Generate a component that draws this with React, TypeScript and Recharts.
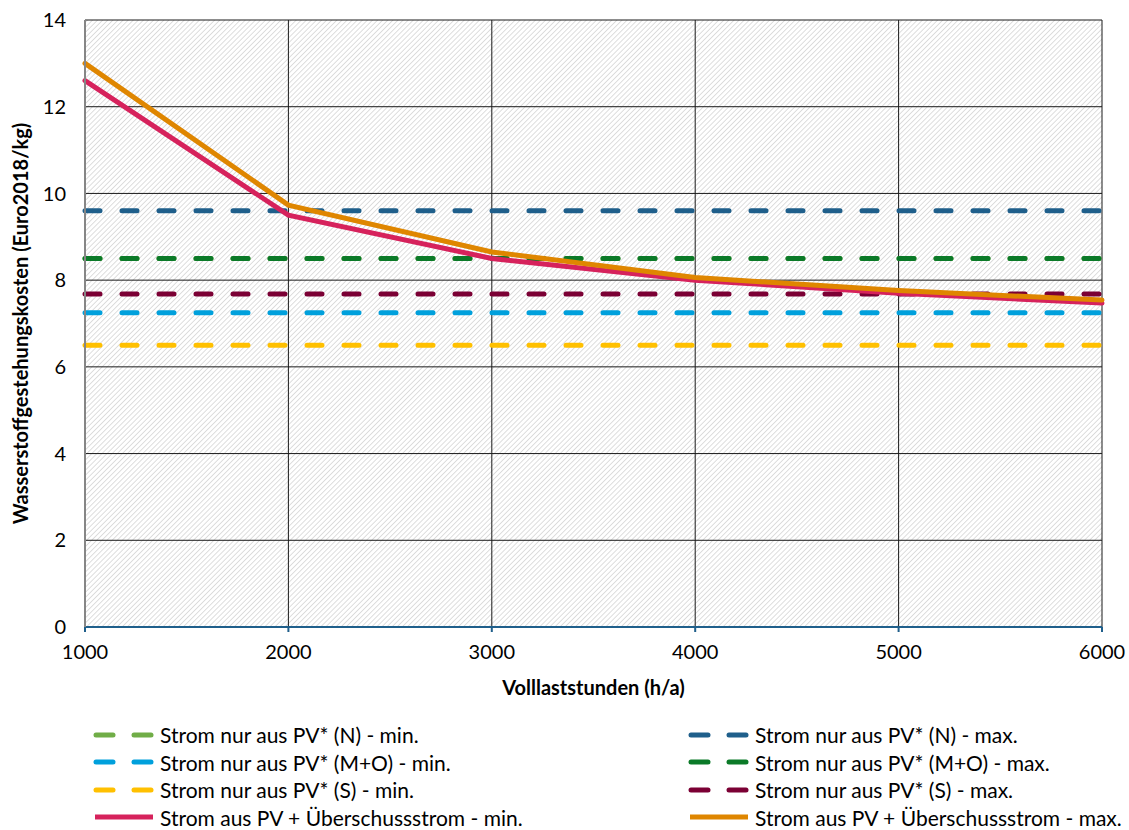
import { LineChart, Line, XAxis, YAxis, CartesianGrid } from 'recharts';

const hours = [1000, 2000, 3000, 4000, 5000, 6000];

// horizontal reference levels, read per x position
const nMin = [8.5, 8.5, 8.5, 8.5, 8.5, 8.5];
const nMax = [9.6, 9.6, 9.6, 9.6, 9.6, 9.6];
const moMin = [7.25, 7.25, 7.25, 7.25, 7.25, 7.25];
const moMax = [8.5, 8.5, 8.5, 8.5, 8.5, 8.5];
const sMin = [6.5, 6.5, 6.5, 6.5, 6.5, 6.5];
const sMax = [7.68, 7.68, 7.68, 7.68, 7.68, 7.68];
const pvMin = [12.6, 9.5, 8.5, 8.0, 7.7, 7.47];
const pvMax = [13.0, 9.73, 8.65, 8.06, 7.76, 7.54];

const yTicks = [0, 2, 4, 6, 8, 10, 12, 14];

const data = hours.map((h, i) => ({
  h,
  nMin: nMin[i],
  nMax: nMax[i],
  moMin: moMin[i],
  moMax: moMax[i],
  sMin: sMin[i],
  sMax: sMax[i],
  pvMin: pvMin[i],
  pvMax: pvMax[i],
}));

interface SeriesDef {
  key: string;
  name: string;
  color: string;
  dashed: boolean;
}

const series: SeriesDef[] = [
  { key: 'nMin', name: 'Strom nur aus PV* (N) - min.', color: '#70ad47', dashed: true },
  { key: 'nMax', name: 'Strom nur aus PV* (N) - max.', color: '#1f5f8b', dashed: true },
  { key: 'moMin', name: 'Strom nur aus PV* (M+O) - min.', color: '#00a0dc', dashed: true },
  { key: 'moMax', name: 'Strom nur aus PV* (M+O) - max.', color: '#0b7a28', dashed: true },
  { key: 'sMin', name: 'Strom nur aus PV* (S) - min.', color: '#ffc000', dashed: true },
  { key: 'sMax', name: 'Strom nur aus PV* (S) - max.', color: '#7b0034', dashed: true },
  { key: 'pvMin', name: 'Strom aus PV + Überschussstrom - min.', color: '#d6225c', dashed: false },
  { key: 'pvMax', name: 'Strom aus PV + Überschussstrom - max.', color: '#df8600', dashed: false },
];

const FONT = 'Lato, "Open Sans", sans-serif';

function LegendIcon({ s }: { s: SeriesDef }) {
  return (
    <svg width={62} height={8} style={{ display: 'block', flex: 'none' }}>
      {s.dashed ? (
        <>
          <line x1={3} y1={4} x2={20} y2={4} stroke={s.color} strokeWidth={5} strokeLinecap="round" />
          <line x1={41} y1={4} x2={58} y2={4} stroke={s.color} strokeWidth={5} strokeLinecap="round" />
        </>
      ) : (
        <line x1={2} y1={4} x2={60} y2={4} stroke={s.color} strokeWidth={5} />
      )}
    </svg>
  );
}

export default function App() {
  const legendLeft = series.filter((_, i) => i % 2 === 0);
  const legendRight = series.filter((_, i) => i % 2 === 1);

  return (
    <div style={{ position: 'absolute', left: 0, top: 0, width: 1129, height: 830, background: '#fff', fontFamily: FONT }}>
      <svg width={0} height={0} style={{ position: 'absolute' }}>
        <defs>
          <pattern id="hatch" width={3.6} height={3.6} patternUnits="userSpaceOnUse" patternTransform="rotate(45)">
            <rect width={3.6} height={3.6} fill="#ffffff" />
            <line x1={0} y1={0} x2={0} y2={3.6} stroke="#c8c8c8" strokeWidth={1.2} />
          </pattern>
        </defs>
      </svg>

      <LineChart
        width={1129}
        height={710}
        data={data}
        margin={{ top: 20, right: 27, left: 25, bottom: 43 }}
      >
        <CartesianGrid stroke="#1a1a1a" strokeWidth={1} fill="url(#hatch)" fillOpacity={1} />
        <XAxis
          dataKey="h"
          type="number"
          domain={[1000, 6000]}
          ticks={hours}
          axisLine={{ stroke: '#1f5f8b', strokeWidth: 2 }}
          tickLine={{ stroke: '#1f5f8b', strokeWidth: 2 }}
          tickSize={5}
          tickMargin={13}
          tick={{ fill: '#000', fontSize: 20, fontFamily: FONT }}
          height={40}
          label={{ value: 'Volllaststunden (h/a)', position: 'insideBottom', offset: -28, fill: '#000', fontSize: 20, fontWeight: 700, fontFamily: FONT }}
        />
        <YAxis
          type="number"
          domain={[0, 14]}
          ticks={yTicks}
          axisLine={{ stroke: '#868686', strokeWidth: 2 }}
          tickLine={false}
          tickMargin={13}
          tick={{ fill: '#000', fontSize: 20, fontFamily: FONT }}
          width={60}
          label={{ value: 'Wasserstoffgestehungskosten (Euro2018/kg)', angle: -90, position: 'insideLeft', offset: -4, style: { textAnchor: 'middle' }, fill: '#000', fontSize: 20, fontWeight: 700, fontFamily: FONT }}
        />
        {series.map((s) => (
          <Line
            key={s.key}
            type="linear"
            dataKey={s.key}
            name={s.name}
            stroke={s.color}
            strokeWidth={5}
            strokeDasharray={s.dashed ? '15 22' : undefined}
            strokeLinecap="round"
            dot={false}
            activeDot={false}
            isAnimationActive={false}
          />
        ))}
      </LineChart>

      <div style={{ position: 'absolute', left: 93, top: 721, fontSize: 21 }}>
        {legendLeft.map((s) => (
          <div key={s.key} style={{ display: 'flex', alignItems: 'center', height: 27.5, gap: 5, whiteSpace: 'nowrap' }}>
            <LegendIcon s={s} />
            <span>{s.name}</span>
          </div>
        ))}
      </div>
      <div style={{ position: 'absolute', left: 688, top: 721, fontSize: 21 }}>
        {legendRight.map((s) => (
          <div key={s.key} style={{ display: 'flex', alignItems: 'center', height: 27.5, gap: 5, whiteSpace: 'nowrap' }}>
            <LegendIcon s={s} />
            <span>{s.name}</span>
          </div>
        ))}
      </div>
    </div>
  );
}
